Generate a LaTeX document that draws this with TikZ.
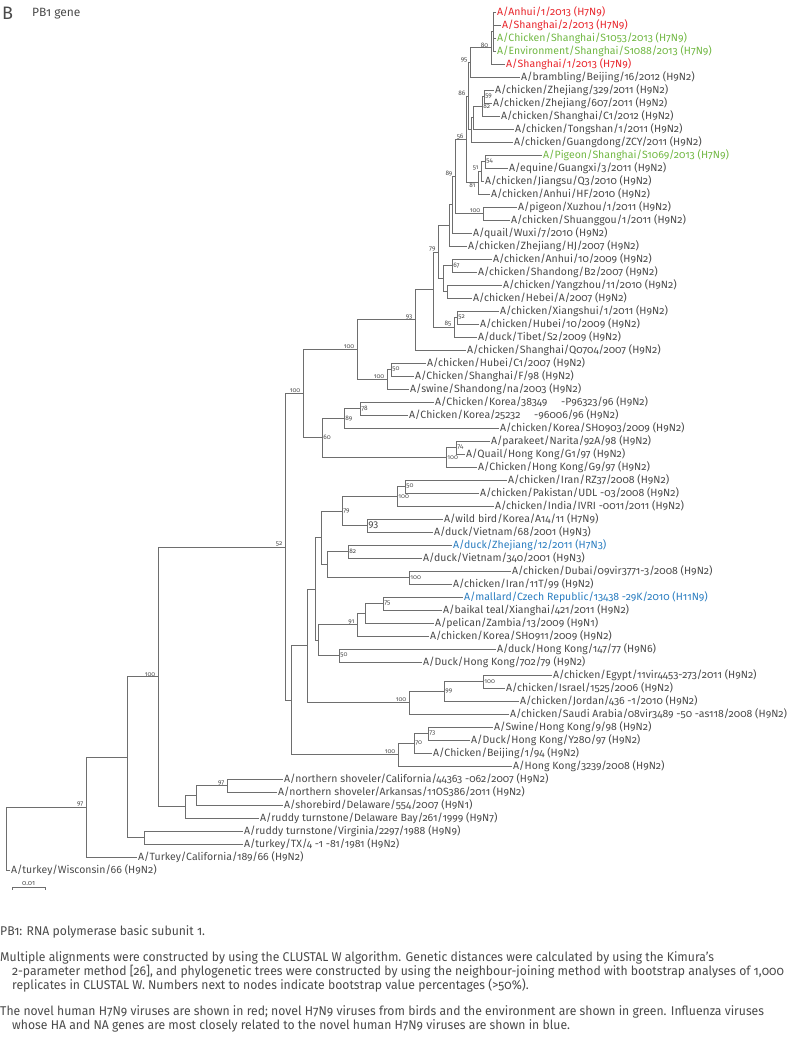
\documentclass[tikz,border=0pt]{standalone}
\usepackage{fontspec}
\setmainfont[Numbers=OldStyle]{Fira Sans}
\newfontfamily\captfont[Numbers=OldStyle,FakeStretch=0.96]{Fira Sans}
\definecolor{h7red}{HTML}{E8262C}
\definecolor{h7green}{HTML}{72B844}
\definecolor{h7blue}{HTML}{2A7DC0}
\definecolor{labgray}{HTML}{4A4A4A}
\definecolor{linegray}{HTML}{6E6E6E}

\begin{document}
\begin{tikzpicture}[x=1pt,y=-1pt,
	branch/.style={draw=linegray,line width=0.8pt},
	leaf/.style={anchor=west,inner sep=1pt,text=labgray,font=\fontsize{10.5}{12}\selectfont},
	bsl/.style={anchor=south east,inner sep=0.4pt,xshift=-2pt,text=labgray,font=\fontsize{6.5}{7}\selectfont},
	bsr/.style={anchor=west,inner sep=0.4pt,xshift=0.8pt,text=labgray,font=\fontsize{6.5}{7}\selectfont},
	capt/.style={anchor=west,inner sep=0pt,text=labgray,font=\captfont\fontsize{12.7}{14}\selectfont}]
	\useasboundingbox (0,0) rectangle (800,1038);
	% header
	\node[anchor=west,inner sep=0pt,text=labgray,font=\fontsize{18}{18}\selectfont] (panel) at (2,13) {B};
	\node[anchor=west,inner sep=0pt,text=labgray,font=\fontsize{12}{13}\selectfont] (gene) at (32,14) {PB1 gene};
	% leaves
	\node[leaf,text=h7red] (l1) at (496,12) {A/Anhui/1/2013 (H7N9)};
	\node[leaf,text=h7red] (l2) at (501,25) {A/Shanghai/2/2013 (H7N9)};
	\node[leaf,text=h7green] (l3) at (496,38) {A/Chicken/Shanghai/S1053/2013 (H7N9)};
	\node[leaf,text=h7green] (l4) at (496,51) {A/Environment/Shanghai/S1088/2013 (H7N9)};
	\node[leaf,text=h7red] (l5) at (505,64) {A/Shanghai/1/2013 (H7N9)};
	\node[leaf] (l6) at (520,77) {A/brambling/Beijing/16/2012 (H9N2)};
	\node[leaf] (l7) at (494,90) {A/chicken/Zhejiang/329/2011 (H9N2)};
	\node[leaf] (l8) at (492,103) {A/chicken/Zhejiang/607/2011 (H9N2)};
	\node[leaf] (l9) at (500,116) {A/chicken/Shanghai/C1/2012 (H9N2)};
	\node[leaf] (l10) at (514,129) {A/chicken/Tongshan/1/2011 (H9N2)};
	\node[leaf] (l11) at (513,142) {A/chicken/Guangdong/ZCY/2011 (H9N2)};
	\node[leaf,text=h7green] (l12) at (542,155) {A/Pigeon/Shanghai/S1069/2013 (H7N9)};
	\node[leaf] (l13) at (508,168) {A/equine/Guangxi/3/2011 (H9N2)};
	\node[leaf] (l14) at (484,181) {A/chicken/Jiangsu/Q3/2010 (H9N2)};
	\node[leaf] (l15) at (490,194) {A/chicken/Anhui/HF/2010 (H9N2)};
	\node[leaf] (l16) at (517,207) {A/pigeon/Xuzhou/1/2011 (H9N2)};
	\node[leaf] (l17) at (510,220) {A/chicken/Shuanggou/1/2011 (H9N2)};
	\node[leaf] (l18) at (472,233) {A/quail/Wuxi/7/2010 (H9N2)};
	\node[leaf] (l19) at (467,246) {A/chicken/Zhejiang/HJ/2007 (H9N2)};
	\node[leaf] (l20) at (492,259) {A/chicken/Anhui/10/2009 (H9N2)};
	\node[leaf] (l21) at (477,272) {A/chicken/Shandong/B2/2007 (H9N2)};
	\node[leaf] (l22) at (502,285) {A/chicken/Yangzhou/11/2010 (H9N2)};
	\node[leaf] (l23) at (472,298) {A/chicken/Hebei/A/2007 (H9N2)};
	\node[leaf] (l24) at (499,311) {A/chicken/Xiangshui/1/2011 (H9N2)};
	\node[leaf] (l25) at (479,324) {A/chicken/Hubei/10/2009 (H9N2)};
	\node[leaf] (l26) at (477,337) {A/duck/Tibet/S2/2009 (H9N2)};
	\node[leaf] (l27) at (466,350) {A/chicken/Shanghai/Q0704/2007 (H9N2)};
	\node[leaf] (l28) at (426,363) {A/chicken/Hubei/C1/2007 (H9N2)};
	\node[leaf] (l29) at (414,376) {A/Chicken/Shanghai/F/98 (H9N2)};
	\node[leaf] (l30) at (409,389) {A/swine/Shandong/na/2003 (H9N2)};
	\node[leaf] (l31) at (434,402) {A/Chicken/Korea/38349\hspace{1.3em}-P96323/96 (H9N2)};
	\node[leaf] (l32) at (408,415) {A/Chicken/Korea/25232\hspace{1.3em}-96006/96 (H9N2)};
	\node[leaf] (l33) at (499,428) {A/chicken/Korea/SH0903/2009 (H9N2)};
	\node[leaf] (l34) at (490,441) {A/parakeet/Narita/92A/98 (H9N2)};
	\node[leaf] (l35) at (465,454) {A/Quail/Hong Kong/G1/97 (H9N2)};
	\node[leaf] (l36) at (477,467) {A/Chicken/Hong Kong/G9/97 (H9N2)};
	\node[leaf] (l37) at (507,480) {A/chicken/Iran/RZ37/2008 (H9N2)};
	\node[leaf] (l38) at (479,493) {A/chicken/Pakistan/UDL -03/2008 (H9N2)};
	\node[leaf] (l39) at (494,506) {A/chicken/India/IVRI -0011/2011 (H9N2)};
	\node[leaf] (l40) at (443,519) {A/wild bird/Korea/A14/11 (H7N9)};
	\node[leaf] (l41) at (433,532) {A/duck/Vietnam/68/2001 (H9N3)};
	\node[leaf,text=h7blue] (l42) at (452,545) {A/duck/Zhejiang/12/2011 (H7N3)};
	\node[leaf] (l43) at (422,558) {A/duck/Vietnam/340/2001 (H9N3)};
	\node[leaf] (l44) at (511,571) {A/chicken/Dubai/09vir3771-3/2008 (H9N2)};
	\node[leaf] (l45) at (452,584) {A/chicken/Iran/11T/99 (H9N2)};
	\node[leaf,text=h7blue] (l46) at (463,597) {A/mallard/Czech Republic/13438 -29K/2010 (H11N9)};
	\node[leaf] (l47) at (442,610) {A/baikal teal/Xianghai/421/2011 (H9N2)};
	\node[leaf] (l48) at (434,623) {A/pelican/Zambia/13/2009 (H9N1)};
	\node[leaf] (l49) at (429,636) {A/chicken/Korea/SH0911/2009 (H9N2)};
	\node[leaf] (l50) at (496,649) {A/duck/Hong Kong/147/77 (H9N6)};
	\node[leaf] (l51) at (422,662) {A/Duck/Hong Kong/702/79 (H9N2)};
	\node[leaf] (l52) at (552,675) {A/chicken/Egypt/11vir4453-273/2011 (H9N2)};
	\node[leaf] (l53) at (505,688) {A/chicken/Israel/1525/2006 (H9N2)};
	\node[leaf] (l54) at (519,701) {A/chicken/Jordan/436 -1/2010 (H9N2)};
	\node[leaf] (l55) at (509,714) {A/chicken/Saudi Arabia/08vir3489 -50 -as118/2008 (H9N2)};
	\node[leaf] (l56) at (493,727) {A/Swine/Hong Kong/9/98 (H9N2)};
	\node[leaf] (l57) at (470,740) {A/Duck/Hong Kong/Y280/97 (H9N2)};
	\node[leaf] (l58) at (432,753) {A/Chicken/Beijing/1/94 (H9N2)};
	\node[leaf] (l59) at (512,766) {A/Hong Kong/3239/2008 (H9N2)};
	\node[leaf] (l60) at (283,779) {A/northern shoveler/California/44363 -062/2007 (H9N2)};
	\node[leaf] (l61) at (277,792) {A/northern shoveler/Arkansas/11OS386/2011 (H9N2)};
	\node[leaf] (l62) at (283,805) {A/shorebird/Delaware/554/2007 (H9N1)};
	\node[leaf] (l63) at (259,818) {A/ruddy turnstone/Delaware Bay/261/1999 (H9N7)};
	\node[leaf] (l64) at (243,831) {A/ruddy turnstone/Virginia/2297/1988 (H9N9)};
	\node[leaf] (l65) at (243,844) {A/turkey/TX/4 -1 -81/1981 (H9N2)};
	\node[leaf] (l66) at (137,857) {A/Turkey/California/189/66 (H9N2)};
	\node[leaf] (l67) at (10,870) {A/turkey/Wisconsin/66 (H9N2)};
	% internal nodes (b = with bootstrap value, u = without)
	\coordinate (u1) at (493,31.5);
	\coordinate (b80) at (491,47.75);
	\coordinate (b95) at (470,62.4);
	\coordinate (b59) at (484,96.5);
	\coordinate (b82) at (482,106.25);
	\coordinate (u2) at (473,117.6);
	\coordinate (u3) at (471,129.8);
	\coordinate (b86) at (468,96.1);
	\coordinate (b54) at (485,161.5);
	\coordinate (b51) at (481,171.25);
	\coordinate (b81) at (478,182.6);
	\coordinate (b56) at (466,139.4);
	\coordinate (b100a) at (483,213.5);
	\coordinate (b89) at (455,176.4);
	\coordinate (u4) at (452,204.7);
	\coordinate (u5) at (449,225.4);
	\coordinate (b67) at (452,265.5);
	\coordinate (u6) at (447,291.5);
	\coordinate (u7) at (443,278.5);
	\coordinate (b79) at (438,251.9);
	\coordinate (b52) at (457,317.5);
	\coordinate (b85) at (454,327.25);
	\coordinate (u8) at (433,289.6);
	\coordinate (b93) at (415,319.8);
	\coordinate (b50) at (391,369.5);
	\coordinate (b100c) at (387,379.25);
	\coordinate (b100b) at (357,349.5);
	\coordinate (b78) at (360,408.5);
	\coordinate (b89b) at (344,418.25);
	\coordinate (b74) at (456,447.5);
	\coordinate (b100f) at (446,457.25);
	\coordinate (b60) at (322,437.75);
	\coordinate (b100e) at (303,393.6);
	\coordinate (b50b) at (405,486.5);
	\coordinate (b100i) at (397,496.25);
	\coordinate (b93b) at (367,525.5);
	\coordinate (b79b) at (342,510.9);
	\coordinate (b82b) at (348,551.5);
	\coordinate (b100j) at (409,577.5);
	\coordinate (u9) at (327,564.5);
	\coordinate (u10) at (321,537.7);
	\coordinate (b75) at (383,603.5);
	\coordinate (u11) at (365,613.25);
	\coordinate (b91) at (357,624.6);
	\coordinate (b50c) at (339,655.5);
	\coordinate (u12) at (318,640.1);
	\coordinate (u13) at (315,588.9);
	\coordinate (b100h) at (483,681.5);
	\coordinate (b99) at (444,691.25);
	\coordinate (b100g) at (409,702.6);
	\coordinate (u14) at (307,645.75);
	\coordinate (b73) at (428,733.5);
	\coordinate (b70) at (414,743.25);
	\coordinate (b100s) at (398,754.6);
	\coordinate (u15) at (291,700.2);
	\coordinate (b52b) at (285,546.9);
	\coordinate (b97b) at (227,785.5);
	\coordinate (u16) at (196,795.25);
	\coordinate (u17) at (185,806.6);
	\coordinate (b100r) at (158,676.75);
	\coordinate (u18) at (144,837.5);
	\coordinate (u19) at (127,757.1);
	\coordinate (b97) at (86,807.1);
	\coordinate (root) at (6,838.5);
	% branches, child -| parent
	\foreach \p/\c in {u1/l1,u1/l2,u1/l3,u1/l4,b80/u1,b80/l5,b95/b80,b95/l6,
		b59/l7,b59/l8,b82/b59,b82/l9,u2/b82,u2/l10,u3/u2,u3/l11,b86/b95,b86/u3,
		b54/l12,b54/l13,b51/b54,b51/l14,b81/b51,b81/l15,b56/b86,b56/b81,
		b100a/l16,b100a/l17,b89/b56,b89/b100a,u4/b89,u4/l18,u5/u4,u5/l19,
		b67/l20,b67/l21,u6/l22,u6/l23,u7/b67,u7/u6,b79/u5,b79/u7,
		b52/l24,b52/l25,b85/b52,b85/l26,u8/b79,u8/b85,b93/u8,b93/l27,
		b50/l28,b50/l29,b100c/b50,b100c/l30,b100b/b93,b100b/b100c,
		b78/l31,b78/l32,b89b/b78,b89b/l33,b74/l34,b74/l35,b100f/b74,b100f/l36,
		b60/b89b,b60/b100f,b100e/b100b,b100e/b60,
		b50b/l37,b50b/l38,b100i/b50b,b100i/l39,b93b/l40,b93b/l41,b79b/b100i,b79b/b93b,
		b82b/l42,b82b/l43,b100j/l44,b100j/l45,u9/b82b,u9/b100j,u10/b79b,u10/u9,
		b75/l46,b75/l47,u11/b75,u11/l48,b91/u11,b91/l49,b50c/l50,b50c/l51,
		u12/b91,u12/b50c,u13/u10,u13/u12,
		b100h/l52,b100h/l53,b99/b100h,b99/l54,b100g/b99,b100g/l55,u14/u13,u14/b100g,
		b73/l56,b73/l57,b70/b73,b70/l58,b100s/b70,b100s/l59,u15/u14,u15/b100s,
		b52b/b100e,b52b/u15,
		b97b/l60,b97b/l61,u16/b97b,u16/l62,u17/u16,u17/l63,b100r/b52b,b100r/u17,
		u18/l64,u18/l65,u19/b100r,u19/u18,b97/u19,b97/l66,root/b97,root/l67}
		\draw[branch] (\c) -| (\p);
	% bootstrap values left of the node
	\foreach \n/\v in {b80/80,b95/95,b86/86,b56/56,b51/51,b89/89,b100a/100,b79/79,
		b93/93,b85/85,b100b/100,b100c/100,b100e/100,b91/91,b100g/100,b52b/52,
		b100r/100,b100s/100,b97b/97,b97/97}
		\node[bsl] at (\n) {\v};
	\node[bsl,anchor=north east] at (b81) {81};
	% bootstrap values right of the node
	\foreach \n/\v in {b59/59,b82/82,b54/54,b67/67,b52/52,b50/50,b78/78,b89b/89,
		b60/60,b74/74,b100f/100,b50b/50,b100i/100,b79b/79,b82b/82,b100j/100,
		b75/75,b50c/50,b99/99,b100h/100,b70/70,b73/73}
		\node[bsr] at (\n) {\v};
	\node[bsr,font=\fontsize{10}{12}\selectfont] at (b93b) {93};
	% scale bar
	\coordinate (sb1) at (12,887);
	\coordinate (sb2) at (45,887);
	\draw[branch,line width=0.6pt] (sb1) -- (sb2);
	\draw[branch,line width=0.6pt] (sb1) -- ++(0,2.5) (sb2) -- ++(0,2.5);
	\node[anchor=south,inner sep=0.5pt,text=labgray,font=\fontsize{7}{8}\selectfont] (sbl) at (28.5,886) {0.01};
	% caption
	\node[capt] (c1) at (0,932) {PB1: RNA polymerase basic subunit 1.};
	\node[capt] (c2) at (0,958) {Multiple alignments were constructed by using the CLUSTAL W algorithm. Genetic distances were calculated by using the Kimura’s};
	\node[capt] (c3) at (12,971.5) {2-parameter method [26], and phylogenetic trees were constructed by using the neighbour-joining method with bootstrap analyses of 1,000};
	\node[capt] (c4) at (12,985) {replicates in CLUSTAL W. Numbers next to nodes indicate bootstrap value percentages (>50\%).};
	\node[capt] (c5) at (0,1012) {The novel human H7N9 viruses are shown in red; novel H7N9 viruses from birds and the environment are shown in green. Influenza viruses};
	\node[capt] (c6) at (12,1025.5) {whose HA and NA genes are most closely related to the novel human H7N9 viruses are shown in blue.};
\end{tikzpicture}
\end{document}
